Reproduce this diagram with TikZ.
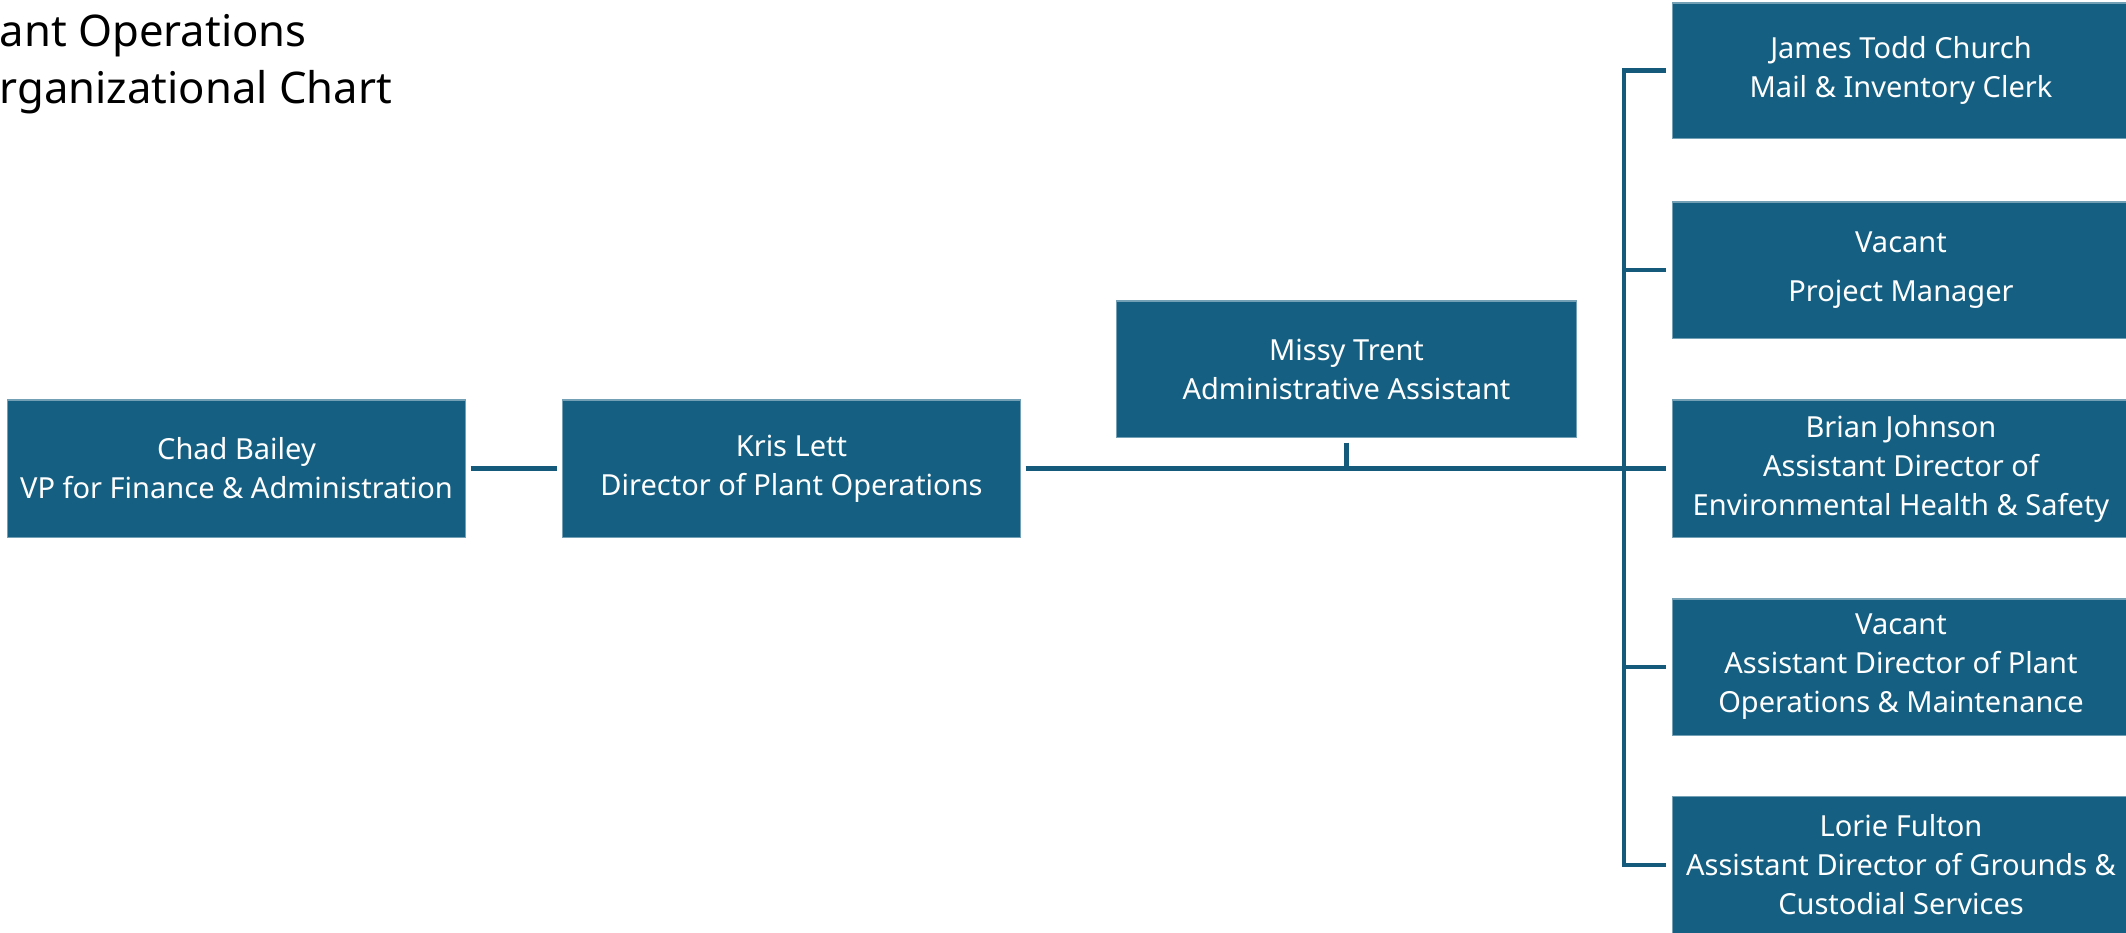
\documentclass[tikz,border=0pt]{standalone}
\usepackage{fontspec}
\setmainfont{Noto Sans}
\definecolor{boxblue}{HTML}{156082}
\definecolor{linkblue}{HTML}{155A7A}
\tikzset{
  orgbox/.style={rectangle, fill=boxblue, draw=boxblue!60!white, line width=0.3pt,
    minimum width=4.57cm, minimum height=1.37cm, inner sep=0pt, text=white, align=center,
    font=\fontsize{8.25pt}{11.1pt}\selectfont},
  conn/.style={draw=linkblue, line width=1.35pt},
  titletext/.style={anchor=base west, inner sep=0pt, font=\fontsize{12.4pt}{15pt}\selectfont}
}
\begin{document}
\begin{tikzpicture}[x=0.01cm,y=-0.01cm]
\clip (0,0) rectangle (2126,932);
\useasboundingbox (0,0) rectangle (2126,932);
\fill[white] (0,0) rectangle (2126,932);
% title
\node[titletext] (t1) at (-1,46) {ant Operations};
\node[titletext] (t2) at (-1,103) {rganizational Chart};
% boxes
\node[orgbox] (chad) at (236.5,468.5) {Chad Bailey\\VP for Finance \& Administration};
\node[orgbox] (kris) at (791.5,468.5) {Kris Lett\\Director of Plant Operations};
\node[orgbox, minimum width=4.59cm, minimum height=1.36cm] (missy) at (1346.5,369) {Missy Trent\\Administrative Assistant};
\node[orgbox, minimum height=1.35cm] (james) at (1901,70.5) {James Todd Church\\Mail \& Inventory Clerk};
\node[orgbox, minimum height=1.36cm] (vac1) at (1901,270) {Vacant\\[2.7pt]Project Manager};
\node[orgbox] (brian) at (1901,468.5) {Brian Johnson\\Assistant Director of\\Environmental Health \& Safety};
\node[orgbox, minimum height=1.36cm] (vac2) at (1901,667) {Vacant\\Assistant Director of Plant\\Operations \& Maintenance};
\node[orgbox] (lorie) at (1901,865) {Lorie Fulton\\Assistant Director of Grounds \&\\Custodial Services};
% connectors
\coordinate (tx) at (1624,468.5);
\draw[conn, shorten <=0.05cm, shorten >=0.05cm] (chad.east) -- (kris.east -| kris.west);
\draw[conn, shorten <=0.05cm] (kris.east) -- (tx);
\draw[conn, shorten <=0.05cm] (missy.south) -- (missy.south |- tx);
\draw[conn, shorten <=0.06cm, shorten >=0.06cm] (james.west) -- (james.west -| tx) -- (lorie.west -| tx) -- (lorie.west);
\draw[conn, shorten <=0.06cm] (vac1.west) -- (vac1.west -| tx);
\draw[conn, shorten <=0.06cm] (brian.west) -- (tx);
\draw[conn, shorten <=0.06cm] (vac2.west) -- (vac2.west -| tx);
\end{tikzpicture}
\end{document}
